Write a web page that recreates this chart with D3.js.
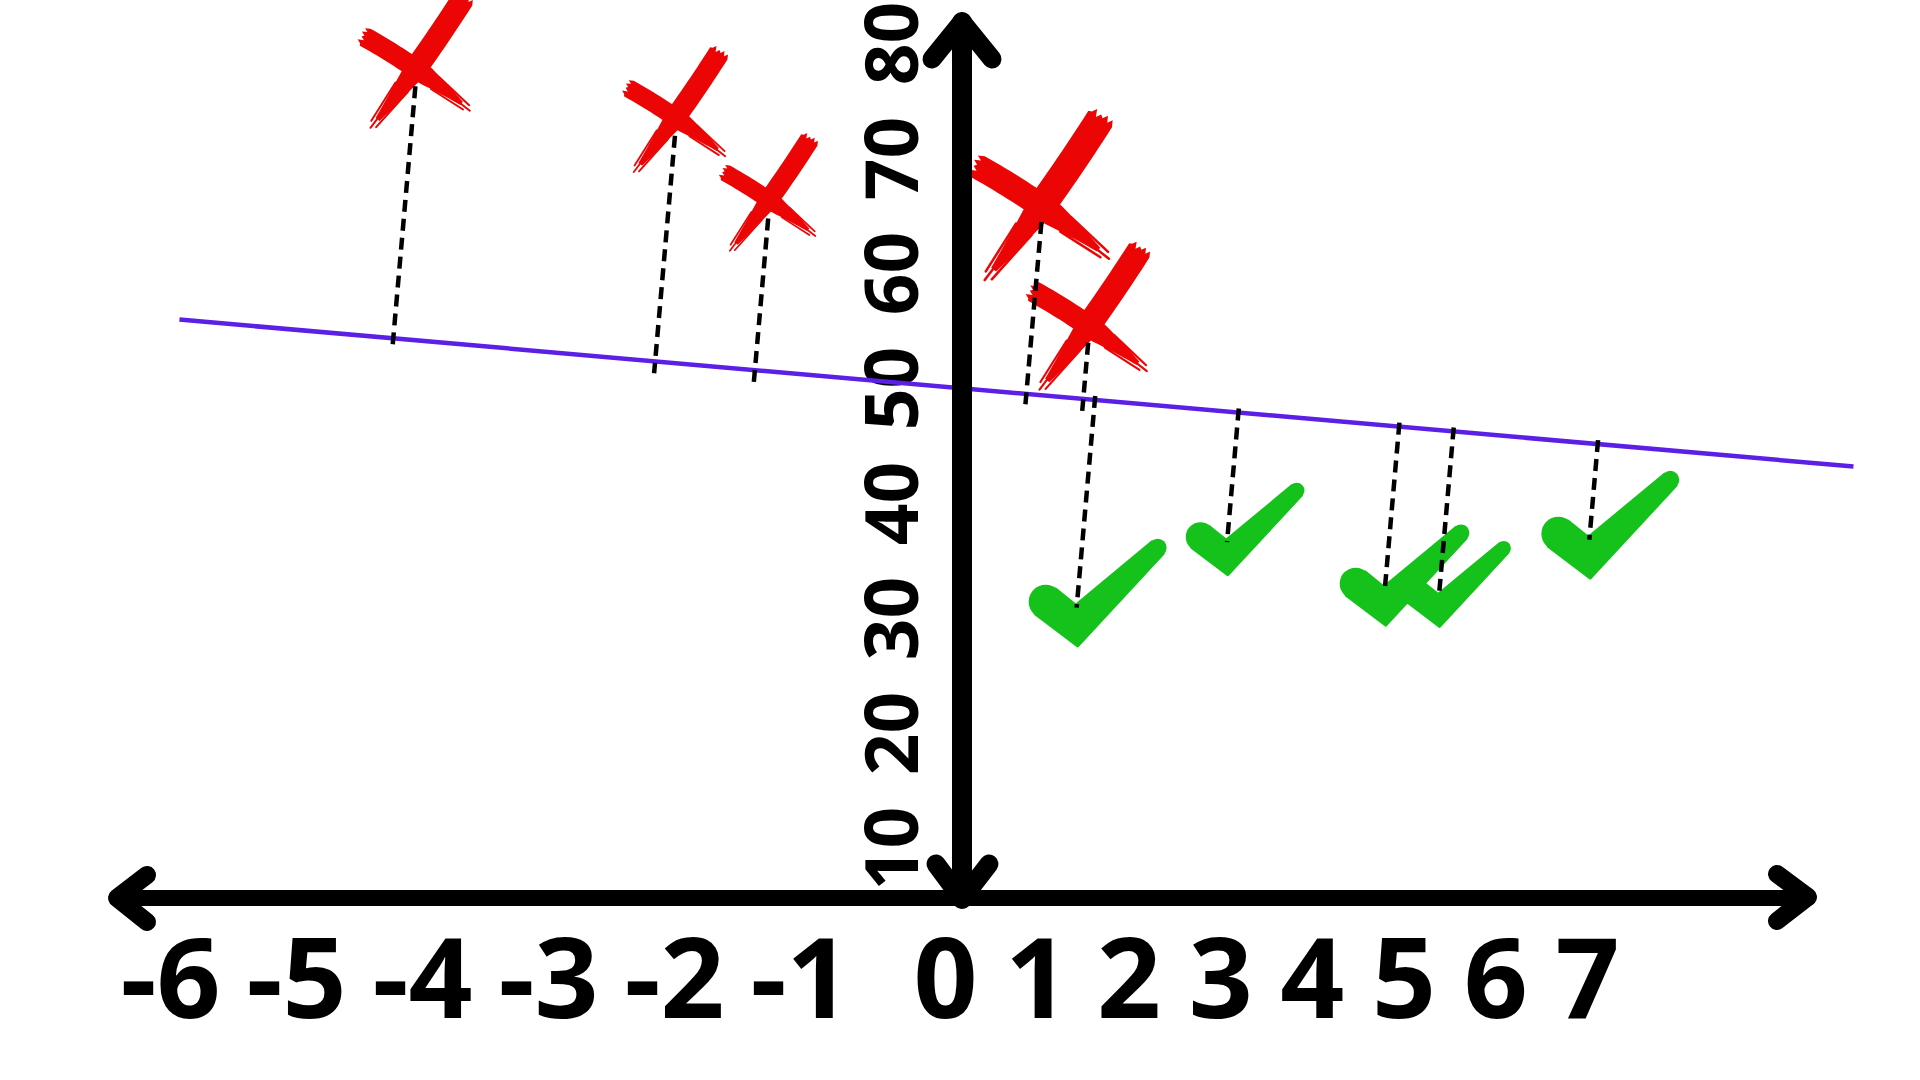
<!DOCTYPE html>
<html>
<head>
<meta charset="utf-8">
<script src="https://cdn.jsdelivr.net/npm/d3@7"></script>
<style>
  body { margin: 0; background: #fff; }
  svg { display: block; }
  text { font-family: "Open Sans", sans-serif; font-weight: 700; fill: #000; }
</style>
</head>
<body>
<div id="chart"></div>
<script>
// data
const tickX = [-6, -5, -4, -3, -2, -1, 0, 1, 2, 3, 4, 5, 6, 7]
const tickY = [10, 20, 30, 40, 50, 60, 70, 80]

// red crosses (above the line)
const failX = [-4.17, -2.11, -1.37, 0.89, 1.40]
const failY = [78.4, 74.1, 66.9, 66.6, 56.1]
// green ticks (below the line)
const passX = [1.25, 2.89, 4.61, 5.20, 6.84]
const passY = [30.9, 36.6, 32.5, 31.9, 36.8]
// fitted line, two ends
const fitX = [-6.06, 9.72]
const fitY = [55.95, 43.17]

// glyph sizes (style only)
const failSize = [1.0, 0.92, 0.86, 1.25, 1.08]
const passSize = [1.0, 0.86, 0.94, 0.8, 1.0]

const red = "#ec0505"
const green = "#14c21b"
const purple = "#5b1fe6"

const width = 1920
const height = 1080

const svg = d3.select("div#chart").append("svg").attr("width", width).attr("height", height)

// the label spacing of the drawing is not even: wider on the negative side
const x = d3.scaleLinear().domain([-6, -1, 0, 7]).range([187, 817, 962, 1604])
const y = d3.scaleLinear().domain([10, 80]).range([848, 43])

// labels
const yAxisGroup = svg.append("g").attr("class", "yAxisGroup").attr("transform", "translate(918, 0)")
yAxisGroup.call(d3.axisLeft(y).tickValues(tickY).tickSize(0).tickFormat(d => String(d)))
yAxisGroup.select(".domain").remove()
yAxisGroup.attr("font-size", 73).attr("font-family", null)
yAxisGroup.selectAll("text")
    .attr("x", 0).attr("y", 0).attr("dy", 0)
    .attr("text-anchor", "middle")
    .attr("transform", "rotate(-90)")

const xAxisGroup = svg.append("g").attr("class", "xAxisGroup").attr("transform", "translate(-17, 1018)")
xAxisGroup.call(d3.axisBottom(x).tickValues(tickX).tickSize(0).tickFormat(d => String(d)))
xAxisGroup.select(".domain").remove()
xAxisGroup.attr("font-size", 112).attr("font-family", null)
xAxisGroup.selectAll("text").attr("y", 0).attr("dy", 0).attr("text-anchor", "middle")

// fitted line
const fit = d3.zip(fitX, fitY)
svg.append("path")
    .datum(fit)
    .attr("d", d3.line().x(d => x(d[0])).y(d => y(d[1])))
    .attr("fill", "none")
    .attr("stroke", purple)
    .attr("stroke-width", 4.5)

// brush stroke along a quadratic curve, ragged at the start, tapered at the end
function brushStroke(g, p0, c, p1, w0, w1, tail) {
    const n = 24, left = [], right = []
    const at = t => {
        const mt = 1 - t
        return [mt * mt * p0[0] + 2 * mt * t * c[0] + t * t * p1[0],
                mt * mt * p0[1] + 2 * mt * t * c[1] + t * t * p1[1]]
    }
    const tan = t => {
        const dx = 2 * (1 - t) * (c[0] - p0[0]) + 2 * t * (p1[0] - c[0])
        const dy = 2 * (1 - t) * (c[1] - p0[1]) + 2 * t * (p1[1] - c[1])
        const l = Math.hypot(dx, dy)
        return [dx / l, dy / l]
    }
    const w = t => t < tail ? w0 : w0 + (w1 - w0) * (t - tail) / (1 - tail)
    for (let i = 0; i <= n; i++) {
        const t = i / n, b = at(t), d = tan(t), hw = w(t) / 2
        left.push([b[0] - d[1] * hw, b[1] + d[0] * hw])
        right.push([b[0] + d[1] * hw, b[1] - d[0] * hw])
    }
    const d0 = tan(0)
    const rag = [0, 5, 1, 6, 2, 4, 0, 6, 2, 1]
    const cap = rag.map((e, k) => {
        const s = k / (rag.length - 1)
        return [right[0][0] + s * (left[0][0] - right[0][0]) - d0[0] * e,
                right[0][1] + s * (left[0][1] - right[0][1]) - d0[1] * e]
    })
    const pts = left.concat(right.slice().reverse(), cap)
    g.append("path").attr("d", d3.line()(pts) + "Z").attr("fill", red)

    // a few loose hairs at the tail
    const d1 = tan(1)
    ;[-0.45, 0.05, 0.5].forEach((f, k) => {
        const t0 = 0.72, b0 = at(t0), dt = tan(t0), hw = w(t0) * f
        const b1 = at(1)
        const ext = [7, 11, 5][k]
        g.append("line")
            .attr("x1", b0[0] - dt[1] * hw).attr("y1", b0[1] + dt[0] * hw)
            .attr("x2", b1[0] + d1[0] * ext - d1[1] * hw * 0.5).attr("y2", b1[1] + d1[1] * ext + d1[0] * hw * 0.5)
            .attr("stroke", red).attr("stroke-width", 2).attr("stroke-linecap", "round")
    })
}

function drawCross(g) {
    // rising stroke: top right to bottom left
    brushStroke(g, [45, -62], [4, 2], [-40, 58], 23, 5, 0.55)
    // falling stroke: left to bottom right
    brushStroke(g, [-52, -24], [-2, 4], [44, 42], 20, 4, 0.6)
}

function drawCheck(g) {
    const S = [-31, -6], V = [0, 19], T = [81, -60]
    const hs = 16, ht = 8
    const unit = (a, b) => { const dx = b[0] - a[0], dy = b[1] - a[1], l = Math.hypot(dx, dy); return [dx / l, dy / l] }
    const ua = unit(S, V), ub = unit(V, T)
    const na = [-ua[1], ua[0]]          // outer side of short arm
    const nb = [-ub[1], ub[0]]          // outer side of long arm
    const bis = unit([0, 0], [na[0] + nb[0], na[1] + nb[1]])
    const cosH = na[0] * bis[0] + na[1] * bis[1]
    const m = hs / cosH
    const M = [V[0] + bis[0] * m * 0.9, V[1] + bis[1] * m * 0.9]
    const I = [V[0] - bis[0] * m, V[1] - bis[1] * m]
    const pts = [
        [S[0] + na[0] * hs, S[1] + na[1] * hs],
        M,
        [T[0] + nb[0] * ht, T[1] + nb[1] * ht],
        [T[0] - nb[0] * ht, T[1] - nb[1] * ht],
        I,
        [S[0] - na[0] * hs, S[1] - na[1] * hs]
    ]
    g.append("path").attr("d", d3.line()(pts) + "Z").attr("fill", green)
        .attr("stroke", green).attr("stroke-width", 3).attr("stroke-linejoin", "round")
    g.append("circle").attr("cx", S[0]).attr("cy", S[1]).attr("r", hs + 1).attr("fill", green)
    g.append("circle").attr("cx", T[0]).attr("cy", T[1]).attr("r", ht + 1).attr("fill", green)
}

const fails = d3.zip(failX, failY, failSize)
const passes = d3.zip(passX, passY, passSize)

const elementGroup = svg.append("g").attr("class", "elementGroup")

elementGroup.selectAll("g.fail").data(fails).join("g")
    .attr("class", "fail")
    .attr("transform", d => `translate(${x(d[0])}, ${y(d[1])}) scale(${d[2]})`)
    .each(function() { drawCross(d3.select(this)) })

elementGroup.selectAll("g.pass").data(passes).join("g")
    .attr("class", "pass")
    .attr("transform", d => `translate(${x(d[0])}, ${y(d[1])}) scale(${d[2]})`)
    .each(function() { drawCheck(d3.select(this)) })

// residuals: perpendicular from each point to the fitted line (in screen space)
const a0 = [x(fitX[0]), y(fitY[0])], a1 = [x(fitX[1]), y(fitY[1])]
const len = Math.hypot(a1[0] - a0[0], a1[1] - a0[1])
const u = [(a1[0] - a0[0]) / len, (a1[1] - a0[1]) / len]
function foot(p) {
    const t = (p[0] - a0[0]) * u[0] + (p[1] - a0[1]) * u[1]
    return [a0[0] + t * u[0], a0[1] + t * u[1]]
}
function residual(d, above) {
    const p = [x(d[0]), y(d[1])], f = foot(p)
    const l = Math.hypot(f[0] - p[0], f[1] - p[1])
    const n = [(f[0] - p[0]) / l, (f[1] - p[1]) / l]
    return above
        ? [[p[0] + n[0] * 25, p[1] + n[1] * 25], [f[0] + n[0] * 12, f[1] + n[1] * 12]]
        : [[f[0] + n[0] * 4, f[1] + n[1] * 4], p]
}
const residuals = fails.map(d => residual(d, true)).concat(passes.map(d => residual(d, false)))

elementGroup.selectAll("line.residual").data(residuals).join("line")
    .attr("class", "residual")
    .attr("x1", d => d[0][0]).attr("y1", d => d[0][1])
    .attr("x2", d => d[1][0]).attr("y2", d => d[1][1])
    .attr("stroke", "#000")
    .attr("stroke-width", 4.5)
    .attr("stroke-dasharray", "12 7")

// hand drawn axes with arrow heads
const axisGroup = svg.append("g").attr("class", "axisGroup")
    .attr("fill", "none").attr("stroke", "#000")
    .attr("stroke-linecap", "round").attr("stroke-linejoin", "round")

const arrows = [
    { pts: [[117, 898], [1808, 898]], w: 16 },
    { pts: [[962, 22], [962, 899]], w: 20 },
    { pts: [[147, 875], [117, 898], [147, 922]], w: 18 },
    { pts: [[1777, 874], [1808, 897], [1777, 921]], w: 18 },
    { pts: [[932, 59], [962, 22], [992, 59]], w: 19 },
    { pts: [[936, 864], [962, 899], [989, 864]], w: 19 }
]
axisGroup.selectAll("path").data(arrows).join("path")
    .attr("d", d => d3.line()(d.pts))
    .attr("stroke-width", d => d.w)
</script>
</body>
</html>
